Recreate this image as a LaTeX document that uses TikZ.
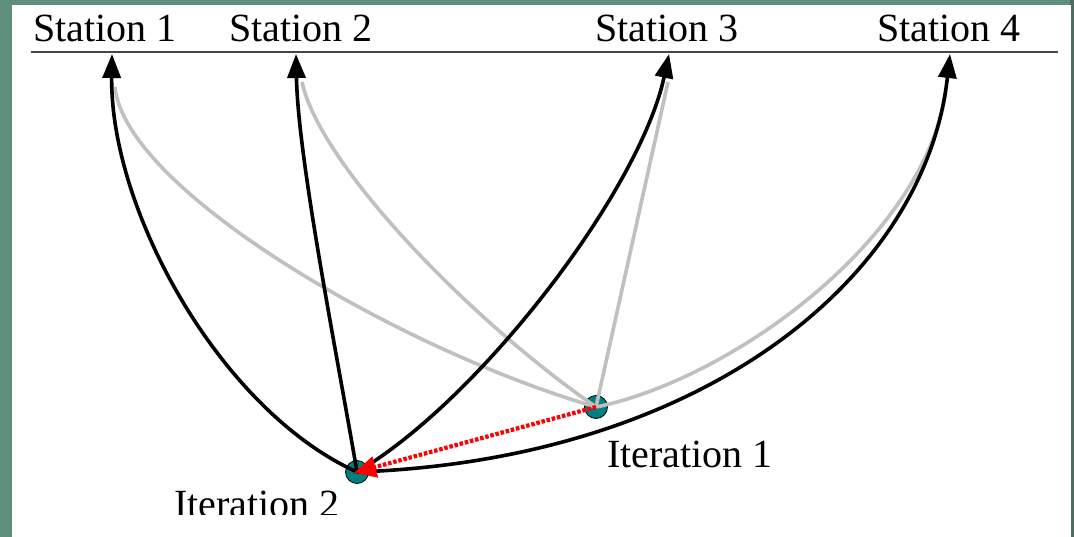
\documentclass[tikz,border=0pt]{standalone}
\usepackage{fontspec}
\setmainfont{Liberation Serif}
\usetikzlibrary{arrows.meta}
\definecolor{framegreen}{RGB}{94,143,122}
\definecolor{framedark}{RGB}{78,108,98}
\definecolor{nodeteal}{RGB}{0,128,128}
\definecolor{silvergray}{RGB}{192,192,192}
\definecolor{rulegray}{RGB}{70,70,70}
\begin{document}
\begin{tikzpicture}[x=1pt,y=-1pt,
  lbl/.style={font=\fontsize{40}{48}\selectfont, inner sep=0pt, anchor=base},
  itnode/.style={circle, draw=black, fill=nodeteal, line width=0.8pt, minimum size=23pt, inner sep=0pt},
  blk/.style={draw=black, line width=3.6pt, -{Triangle[length=24pt,width=18pt]}},
  gry/.style={draw=silvergray, line width=3.6pt},
  redarr/.style={draw=red, line width=4.2pt, dash pattern=on 3.5pt off 1.8pt, -{Triangle[length=22pt,width=21pt]}}]
\useasboundingbox (0,0) rectangle (1074,537);
% frame
\fill[framegreen] (0,0) rectangle (1074,537);
\fill[framedark] (1070,0) rectangle (1074,537);
\fill[white] (12,5) rectangle (1071,537);
% rule under the station names
\coordinate (rl) at (31,52);
\coordinate (rr) at (1058,52);
\draw[rulegray, line width=1.6pt] (rl) -- (rr);
% station labels
\node[lbl] (s1) at (105,42) {Station 1};
\node[lbl] (s2) at (301,42) {Station 2};
\node[lbl] (s3) at (667,42) {Station 3};
\node[lbl] (s4) at (949,42) {Station 4};
% arrow tips and grey start points
\coordinate (t1) at (112,54);
\coordinate (t2) at (296,54);
\coordinate (t3) at (669,54);
\coordinate (t4) at (950,54);
\coordinate (g1) at (115,87);
\coordinate (g2) at (302,82);
\coordinate (g3) at (668,82);
\coordinate (g4) at (946,90);
% iteration nodes
\node[itnode] (it2) at (357,472) {};
\node[itnode] (it1) at (596,407) {};
\node[lbl] (l1) at (690,467) {Iteration 1};
\begin{scope}
  \clip (0,0) rectangle (1074,514);
  \node[lbl] (l2) at (257,517) {Iteration 2};
\end{scope}
% grey connectors (iteration 1)
\draw[gry] (g1) .. controls (125,190) and (400,350) .. (it1.center);
\draw[gry] (g2) .. controls (320,165) and (470,320) .. (it1.center);
\draw[gry] (g3) -- (it1.center);
\draw[gry] (g4) .. controls (925,240) and (730,380) .. (it1.center);
% black connectors (iteration 2)
\draw[blk] (it2.center) .. controls (220,410) and (110,210) .. (t1);
\draw[blk] (it2.center) .. controls (338,360) and (298,160) .. (t2);
\draw[blk] (it2.center) .. controls (480,400) and (640,190) .. (t3);
\draw[blk] (it2.center) .. controls (700,460) and (925,280) .. (t4);
% red move arrow
\draw[redarr, shorten >=-3pt] (it1.center) -- (it2.center);
\end{tikzpicture}
\end{document}
